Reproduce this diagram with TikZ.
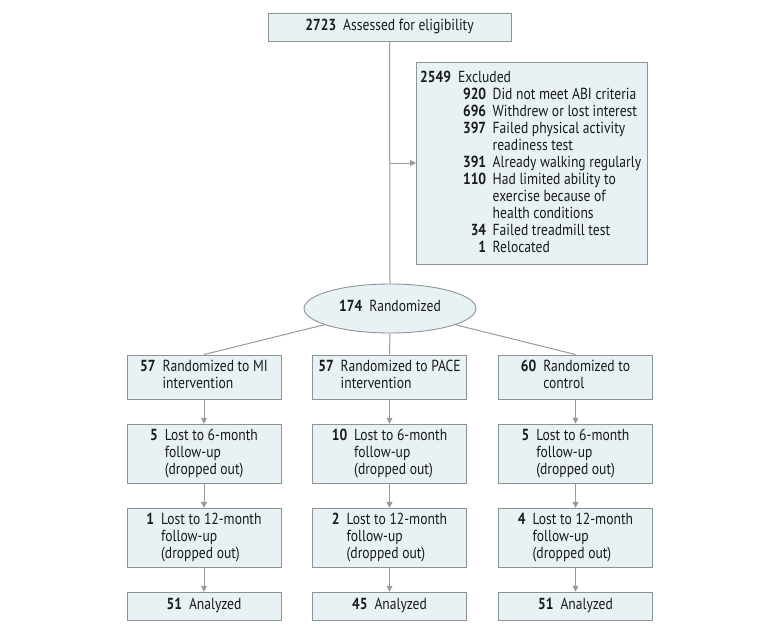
\documentclass[tikz,border=0pt]{standalone}
\usepackage{fontspec}
\setmainfont{PT Sans}[FakeStretch=0.85]
\usetikzlibrary{shapes.geometric,arrows.meta}
\definecolor{boxfill}{HTML}{E8F1F3}
\definecolor{boxline}{HTML}{8C9496}
\definecolor{conn}{HTML}{9A9A9A}
\definecolor{txt}{HTML}{1A1A1A}
\newcommand{\nt}[2]{\begin{tabular}{@{}r@{\hspace{7pt}}l@{}}\textbf{#1}&#2\end{tabular}}
\newcommand{\exn}[1]{\makebox[66pt][r]{\textbf{#1}}}
\begin{document}
\begin{tikzpicture}[x=1pt,y=-1pt,
  every node/.style={font=\fontsize{16}{17}\selectfont, text=txt},
  flowbox/.style={draw=boxline, fill=boxfill, line width=0.9pt, inner sep=0pt, minimum width=154pt, align=center},
  conline/.style={draw=conn, line width=1pt},
  arr/.style={conline, -{Triangle[width=6pt,length=6pt]}}]
\useasboundingbox (0,0) rectangle (780,634);
\node[flowbox, minimum width=243pt, minimum height=28pt] (top) at (389.5,27) {\nt{2723}{Assessed for eligibility}};
\node[flowbox, minimum width=231pt, minimum height=202pt, anchor=north west, align=left] (excl) at (416,62) {};
\node[anchor=north west, inner sep=0pt] (exclt) at (420,70) {\begin{tabular}{@{}r@{\hspace{6.5pt}}l@{}}
\multicolumn{2}{@{}l@{}}{\textbf{2549}\hspace{7pt}Excluded}\\
\exn{920} & Did not meet ABI criteria\\
\exn{696} & Withdrew or lost interest\\
\exn{397} & Failed physical activity\\
 & readiness test\\
\exn{391} & Already walking regularly\\
\exn{110} & Had limited ability to\\
 & exercise because of\\
 & health conditions\\
\exn{34} & Failed treadmill test\\
\exn{1} & Relocated
\end{tabular}};
\node[flowbox, ellipse, minimum width=172pt, minimum height=49pt] (rand) at (390,308.5) {\nt{174}{Randomized}};
\node[flowbox, minimum height=44pt] (mi) at (204,377) {\nt{57}{Randomized to MI\\&intervention}};
\node[flowbox, minimum height=44pt] (pace) at (389.5,377) {\nt{57}{Randomized to PACE\\&intervention}};
\node[flowbox, minimum height=44pt] (ctl) at (575.5,377) {\nt{60}{Randomized to\\&control}};
\node[flowbox, minimum height=59pt] (mi6) at (204,453.7) {\nt{5}{Lost to 6-month\\&follow-up\\&(dropped out)}};
\node[flowbox, minimum height=59pt] (pace6) at (389.5,453.7) {\nt{10}{Lost to 6-month\\&follow-up\\&(dropped out)}};
\node[flowbox, minimum height=59pt] (ctl6) at (575.5,453.7) {\nt{5}{Lost to 6-month\\&follow-up\\&(dropped out)}};
\node[flowbox, minimum height=59pt] (mi12) at (204,537.8) {\nt{1}{Lost to 12-month\\&follow-up\\&(dropped out)}};
\node[flowbox, minimum height=59pt] (pace12) at (389.5,537.8) {\nt{2}{Lost to 12-month\\&follow-up\\&(dropped out)}};
\node[flowbox, minimum height=59pt] (ctl12) at (575.5,537.8) {\nt{4}{Lost to 12-month\\&follow-up\\&(dropped out)}};
\node[flowbox, minimum height=28pt] (mia) at (204,606.2) {\nt{51}{Analyzed}};
\node[flowbox, minimum height=28pt] (pacea) at (389.5,606.2) {\nt{45}{Analyzed}};
\node[flowbox, minimum height=28pt] (ctla) at (575.5,606.2) {\nt{51}{Analyzed}};
\coordinate (j) at (top.south |- 0,163);
\draw[conline] (top.south) -- (rand.north);
\draw[arr] (j) -- (j -| excl.west);
\draw[conline] (rand) -- (mi.north);
\draw[conline] (rand.south) -- (pace.north);
\draw[conline] (rand) -- (ctl.north);
\foreach \a/\b in {mi/mi6,mi6/mi12,mi12/mia,pace/pace6,pace6/pace12,pace12/pacea,ctl/ctl6,ctl6/ctl12,ctl12/ctla}
  \draw[arr] (\a.south) -- (\b.north);
\end{tikzpicture}
\end{document}
